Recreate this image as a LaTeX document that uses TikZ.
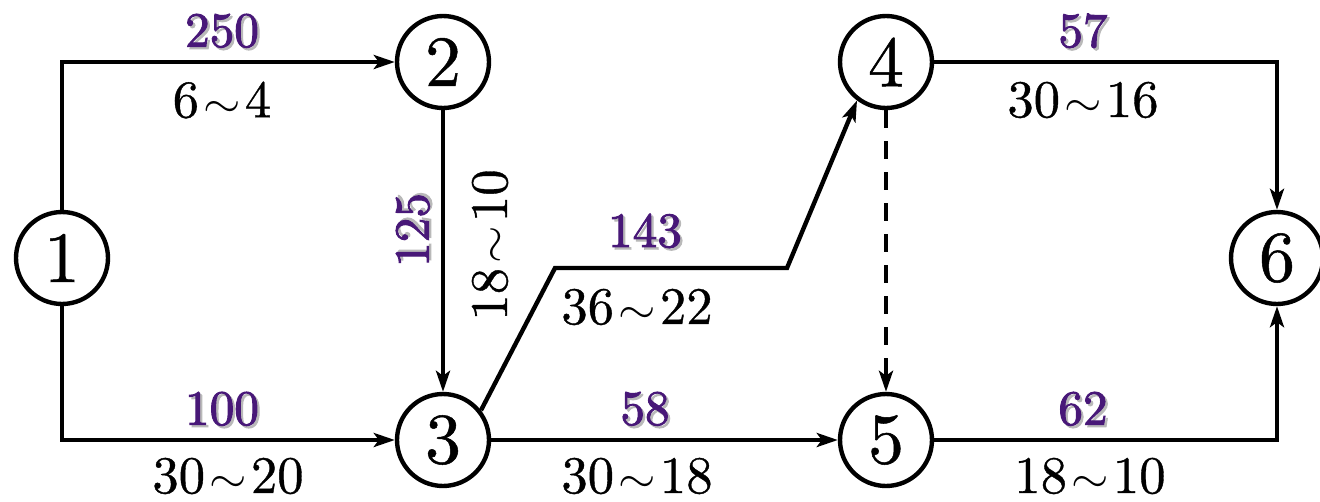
\documentclass[tikz,border=0pt]{standalone}
\usepackage{fontspec}
\usepackage{tikz}
\usetikzlibrary{arrows.meta,calc}
\newfontfamily\costfont{lmroman10-regular.otf}[FakeBold=2]
\newfontfamily\numfont{lmroman10-regular.otf}[FakeBold=0.7]
\definecolor{wpurple}{RGB}{72,24,120}
\definecolor{wshadow}{RGB}{185,185,185}
\newcommand{\tl}{\kern0.08em\scalebox{1.1}[1]{$\sim$}\kern0.08em}
\newcommand{\wnum}[1]{\rlap{\kern1.3pt\raisebox{-1.3pt}{\textcolor{wshadow}{#1}}}\textcolor{wpurple}{#1}}

\begin{document}
\begin{tikzpicture}[
      x=0.02cm,y=-0.02cm,
      event/.style={circle,draw,line width=2.5pt,minimum size=1.84cm,inner sep=0pt,
                    font=\numfont\fontsize{41}{41}\selectfont},
      cost/.style={font=\costfont\fontsize{28}{28}\selectfont,inner sep=0pt},
      dur/.style={font=\numfont\fontsize{30}{30}\selectfont,inner sep=0pt},
      arr/.style={-{Stealth[length=0.42cm,width=0.28cm,inset=0.1cm]},line width=2.5pt}
    ]
      \useasboundingbox (0,0) rectangle (1320,501);
      \node[event] (n1) at (62,258) {1};
      \node[event] (n2) at (443,62) {2};
      \node[event] (n3) at (443,440) {3};
      \node[event] (n4) at (886,62) {4};
      \node[event] (n5) at (886,440) {5};
      \node[event] (n6) at (1277,258) {6};

      \draw[arr] (n1.north) |- (n2.west);
      \draw[arr] (n1.south) |- (n3.west);
      \draw[arr] (n2) -- (n3);
      \draw[arr] (n3.38) -- (555,268) -- (787,268) -- (n4.-127);
      \draw[arr] (n3) -- (n5);
      \draw[arr,dash pattern=on 0.36cm off 0.26cm] (n4) -- (n5);
      \draw[arr] (n4.east) -| (n6.north);
      \draw[arr] (n5.east) -| (n6.south);

      % labels
      \node[cost] (c12) at (222,32) {\wnum{250}};
      \node[dur]  (d12) at (222,100) {6\tl4};
      \node[cost,rotate=90] (c23) at (414,230) {\wnum{125}};
      \node[dur,rotate=90]  (d23) at (490,245) {18\tl10};
      \node[cost] (c13) at (222,410) {\wnum{100}};
      \node[dur]  (d13) at (228,476) {30\tl20};
      \node[cost] (c34) at (645,232) {\wnum{143}};
      \node[dur]  (d34) at (637,307) {36\tl22};
      \node[cost] (c35) at (645,410) {\wnum{58}};
      \node[dur]  (d35) at (637,476) {30\tl18};
      \node[cost] (c46) at (1083,32) {\wnum{57}};
      \node[dur]  (d46) at (1083,100) {30\tl16};
      \node[cost] (c56) at (1083,410) {\wnum{62}};
      \node[dur]  (d56) at (1090,476) {18\tl10};
    \end{tikzpicture}
\end{document}
